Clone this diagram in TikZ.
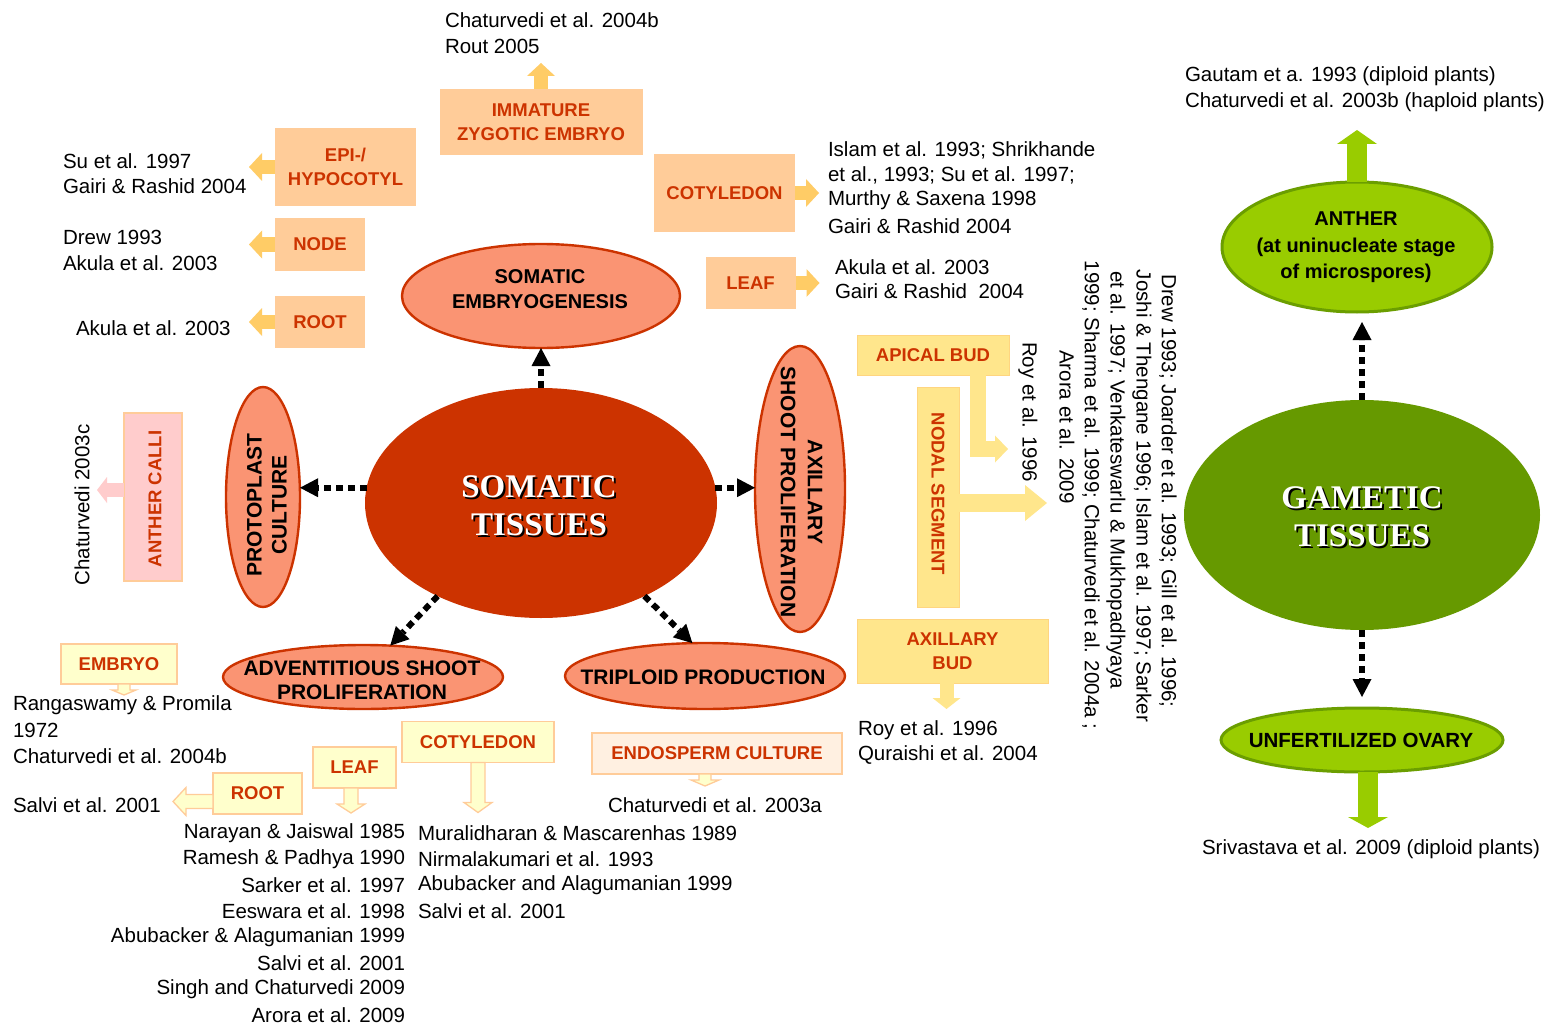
\documentclass[tikz,border=0pt]{standalone}
\usepackage{fontspec}
\setmainfont{Liberation Sans}
\newfontfamily\serifbf{Liberation Serif}
\usetikzlibrary{shapes.geometric,arrows.meta,calc}
\pgfdeclarelayer{bg}
\pgfsetlayers{bg,main}
\newcommand\fsz[2]{\fontsize{#1}{#2}\selectfont}
\definecolor{dred}{HTML}{CC3300}
\definecolor{salmon}{HTML}{FA9473}
\definecolor{obox}{HTML}{FFCC99}
\definecolor{oarr}{HTML}{FFCC66}
\definecolor{ybox}{HTML}{FFE68C}
\definecolor{yedge}{HTML}{FFD580}
\definecolor{lybox}{HTML}{FFFFCC}
\definecolor{pbox}{HTML}{FFCCCC}
\definecolor{peach}{HTML}{FFF0E1}
\definecolor{dgreen}{HTML}{669900}
\definecolor{lgreen}{HTML}{99CC00}
\definecolor{gedge}{HTML}{6B9E00}
\definecolor{txtred}{HTML}{CC3300}
% hollow down arrow: anchor, dx, length, half shaft, half head, head length
\newcommand\hdn[6]{\path[hol] ($(#1)+({#2-#4},0)$) -- ++(0,{#3-#6}) -- ++({#4-#5},0) -- ++(#5,#6) -- ++(#5,{-#6}) -- ++({#4-#5},0) -- ++(0,{#6-#3}) -- cycle;}
% hollow left arrow: anchor, dy, length, half shaft, half head, head length
\newcommand\hlf[6]{\path[hol] ($(#1)+(0,{#2-#4})$) -- ++({#6-#3},0) -- ++(0,{#4-#5}) -- ++({-#6},#5) -- ++(#6,#5) -- ++(0,{#4-#5}) -- ++({#3-#6},0) -- cycle;}
\begin{document}
\begin{tikzpicture}[x=1pt,y=-1pt,
  every node/.style={inner sep=0pt,outer sep=0pt},
  ref/.style={font=\fsz{20.5}{25.5},anchor=west},
  refr/.style={font=\fsz{20.5}{25.5},anchor=east},
  refv/.style={font=\fsz{20.5}{25.5},anchor=center},
  olbl/.style={font=\bfseries\fsz{18.5}{24},text=txtred,align=center},
  obx/.style={rectangle,fill=obox,olbl},
  ybx/.style={rectangle,fill=ybox,draw=yedge,line width=0.8pt,olbl},
  lbx/.style={rectangle,fill=lybox,draw=obox,line width=1.3pt,olbl},
  sell/.style={ellipse,fill=salmon,draw=dred,line width=2.4pt},
  gell/.style={ellipse,fill=lgreen,draw=gedge,line width=3pt},
  elbl/.style={font=\bfseries\fsz{21}{25},align=center},
  big/.style={font=\serifbf\bfseries\fsz{33}{38},align=center},
  dotl/.style={line width=3pt,dash pattern=on 3pt off 3pt},
  darr/.style={line width=6pt,dash pattern=on 7pt off 5pt,-{Triangle[length=18pt,width=19pt,line width=0pt]}},
  oar/.style={draw=oarr,line width=14pt,-{Triangle[length=13pt,width=28pt,line width=0pt]}},
  hol/.style={fill=lybox,draw=obox,line width=1.3pt,line join=miter}
]
\useasboundingbox (0,0) rectangle (1558,1027);
\fill[white] (0,0) rectangle (1558,1027);

% ---------- main ellipses
\node[ellipse,fill=dred,minimum width=352,minimum height=230] (st) at (541,503) {};
\node[big,text=black] (stsh) at (541,508) {SOMATIC\\TISSUES};
\node[big,text=white] (stt) at (539,506) {SOMATIC\\TISSUES};
\node[ellipse,fill=dgreen,minimum width=356,minimum height=230] (gt) at (1362,515) {};
\node[big,text=black] (gtsh) at (1364,519) {GAMETIC\\TISSUES};
\node[big,text=white] (gtt) at (1362,517) {GAMETIC\\TISSUES};

\node[sell,minimum width=278,minimum height=104] (se) at (541,296) {};
\node[font=\bfseries\fsz{20}{25},align=center] (set) at (540,289.5) {SOMATIC\\EMBRYOGENESIS};
\node[sell,minimum width=74,minimum height=220] (pc) at (263,497) {};
\node[elbl,rotate=90] (pct) at (267,505) {PROTOPLAST\\CULTURE};
\node[sell,minimum width=90,minimum height=286] (asp) at (800,489) {};
\node[elbl,font=\bfseries\fsz{21}{27},rotate=-90] (aspt) at (801.5,492) {AXILLARY\\SHOOT PROLIFERATION};
\node[sell,minimum width=280,minimum height=64] (adv) at (363,677) {};
\node[elbl,font=\bfseries\fsz{21}{24}] (advt) at (362,680) {ADVENTITIOUS SHOOT\\PROLIFERATION};
\node[sell,minimum width=280,minimum height=66] (tp) at (705,676) {};
\node[elbl] (tpt) at (703,677) {TRIPLOID PRODUCTION};
\node[gell,minimum width=270,minimum height=130] (an) at (1357,247) {};
\node[font=\bfseries\fsz{20}{26.5},align=center] (ant) at (1356,247.5) {ANTHER\\(at uninucleate stage\\of microspores)};
\node[gell,minimum width=282,minimum height=64] (uo) at (1362,740) {};
\node[font=\bfseries\fsz{20.5}{25}] (uot) at (1361,740) {UNFERTILIZED OVARY};

% ---------- boxes
\node[obx,minimum width=203,minimum height=66] (imm) at (541,122) {IMMATURE\\ZYGOTIC EMBRYO};
\node[obx,minimum width=141,minimum height=78] (epi) at (345.5,167) {EPI-/\\HYPOCOTYL};
\node[obx,minimum width=90,minimum height=53] (nd) at (320,244.5) {NODE};
\node[obx,minimum width=90,minimum height=52] (rt) at (320,322) {ROOT};
\node[obx,minimum width=141,minimum height=78] (cot) at (724.5,193) {COTYLEDON};
\node[obx,minimum width=90,minimum height=52] (lf) at (750.5,283) {LEAF};

\node[ybx,minimum width=152,minimum height=40] (ap) at (933,355) {APICAL BUD};
\node[ybx,minimum width=42,minimum height=220] (ns) at (938,497) {};
\node[olbl,rotate=-90] (nst) at (938,494) {NODAL SEGMENT};
\node[ybx,minimum width=191,minimum height=64] (ab) at (952.5,651) {AXILLARY\\BUD};

\node[lbx,minimum width=116,minimum height=40] (emb) at (119,664) {EMBRYO};
\node[lbx,minimum width=89,minimum height=41] (rt2) at (257.5,793.5) {ROOT};
\node[lbx,minimum width=83,minimum height=41] (lf2) at (354.5,767.5) {LEAF};
\node[lbx,minimum width=152,minimum height=41] (cot2) at (478,742) {COTYLEDON};
\node[lbx,fill=peach,minimum width=250,minimum height=41] (es) at (717,753.5) {ENDOSPERM CULTURE};

\node[rectangle,fill=pbox,draw=obox,line width=1.3pt,minimum width=58,minimum height=168] (ac) at (153,497) {};
\node[olbl,rotate=90] (act) at (155,499) {ANTHER CALLI};

% ---------- dotted connectors
\begin{pgfonlayer}{bg}
\draw[dotl] (epi.south east) -- (se.156);
\draw[dotl] (nd.south east) -- (se.175);
\draw[dotl] (rt.east) -- (se.185);
\draw[dotl] (imm.south) -- (se.north);
\draw[dotl] (cot.south west) -- (se.24);
\draw[dotl] (se.east) -- (se.east -| lf.west);
\draw[dotl] ($(ac.east)+(0,6)$) -- ($(pc.west)+(0,6)$);
\draw[dotl] (asp.55) -- ($(ap.south west)+(23,0)$);
\draw[dotl] (asp.16) -- (asp.16 -| ns.west);
\draw[dotl] (asp.-50) -- ($(ab.north west)+(38,0)$);
\draw[dotl] (adv.177) -- (adv.177 -| emb.east);
\coordinate (rtx) at ($(rt2.north)+(17.5,0)$);
\draw[dotl] (adv.south -| rtx) -- (rtx);
\coordinate (lfx) at ($(lf2.north)+(-3.5,0)$);
\draw[dotl] (adv.south -| lfx) -- (lfx);
\draw[dotl] (cot2.north) -- (cot2.north |- adv.center);
\draw[dotl] (tp.south) -- (tp.south |- es.north);
\end{pgfonlayer}

% ---------- dashed black arrows
\draw[darr] (st.north) -- (se.south);
\draw[darr] (st.175) -- (st.175 -| pc.east);
\draw[darr] (st.5) -- (st.5 -| asp.west);
\draw[darr] (st.222) -- (adv.49);
\draw[darr] (st.318) -- (tp.111);
\draw[darr,shorten >=10pt] (gt.north) -- (gt.north |- an.south);
\draw[darr,shorten >=11pt] (gt.south) -- (gt.south |- uo.north);

% ---------- block arrows
\draw[oar] (epi.west) -- ++(-26,0);
\draw[oar] (nd.west) -- ++(-26,0);
\draw[oar] (rt.west) -- ++(-26,0);
\draw[oar] (imm.north) -- ++(0,-26);
\draw[oar] (cot.east) -- ++(24,0);
\draw[oar] (lf.east) -- ++(24,0);
\draw[draw=pbox,line width=14pt,-{Triangle[length=10pt,width=26pt,line width=0pt]}] ($(ac.west)+(0,-7)$) -- ++(-27,0);
\draw[draw=ybox,line width=16pt,line join=miter,-{Triangle[length=13pt,width=27pt,line width=0pt]}] ($(ap.south east)+(-31,0)$) -- ++(0,74) -- ++(30,0);
\draw[draw=ybox,line width=18pt,-{Triangle[length=22pt,width=36pt,line width=0pt]}] ($(ns.east)+(0,6)$) -- ++(88,0);
\draw[draw=ybox,line width=14pt,-{Triangle[length=11pt,width=28pt,line width=0pt]}] ($(ab.south)+(-6,0)$) -- ++(0,26);
\draw[draw=lgreen,line width=20pt,-{Triangle[length=14pt,width=40pt,line width=0pt]}] (an.north) -- ++(0,-52);
\draw[draw=lgreen,line width=20pt,-{Triangle[length=11pt,width=40pt,line width=0pt]}] ($(uo.south)+(6,0)$) -- ++(0,56);

% hollow arrows
\hdn{emb.south}{5}{11}{6}{12}{5}
\hlf{rt2.west}{8}{40}{7}{14}{13}
\hdn{lf2.south}{-3.5}{25}{7}{14}{9}
\hdn{cot2.south}{0}{50}{7}{14}{10}
\hdn{es.south}{-12}{12}{6}{14}{6}

% ---------- references
\node[ref] (r1) at (445,20) {Chaturvedi et al. 2004b};
\node[ref] (r2) at (445,46) {Rout 2005};
\node[ref] (r3) at (63,161) {Su et al. 1997};
\node[ref] (r4) at (63,186) {Gairi \& Rashid 2004};
\node[ref] (r5) at (63,237) {Drew 1993};
\node[ref] (r6) at (63,263) {Akula et al. 2003};
\node[ref] (r7) at (76,328) {Akula et al. 2003};
\node[ref] (r8) at (828,150) {Islam et al. 1993; Shrikhande};
\node[ref] (r9) at (828,175) {et al., 1993; Su et al. 1997;};
\node[ref] (r10) at (828,200) {Murthy \& Saxena 1998};
\node[ref] (r11) at (828,226) {Gairi \& Rashid 2004};
\node[ref] (r12) at (835,267) {Akula et al. 2003};
\node[ref] (r13) at (835,291) {Gairi \& Rashid\ \ 2004};
\node[ref] (r14) at (1185,76) {Gautam et a. 1993 (diploid plants)};
\node[ref] (r15) at (1185,102) {Chaturvedi et al. 2003b (haploid plants)};
\node[ref] (r16) at (858,730) {Roy et al. 1996};
\node[ref] (r17) at (858,755) {Quraishi et al. 2004};
\node[ref] (r18) at (13,705) {Rangaswamy \& Promila};
\node[ref] (r19) at (13,730) {1972};
\node[ref] (r20) at (13,756) {Chaturvedi et al. 2004b};
\node[ref] (r21) at (13,805) {Salvi et al. 2001};
\node[refr] (r22) at (405,833) {Narayan \& Jaiswal 1985};
\node[refr] (r23) at (405,859) {Ramesh \& Padhya 1990};
\node[refr] (r24) at (405,885) {Sarker et al. 1997};
\node[refr] (r25) at (405,911) {Eeswara et al. 1998};
\node[refr] (r26) at (405,937) {Abubacker \& Alagumanian 1999};
\node[refr] (r27) at (405,963) {Salvi et al. 2001};
\node[refr] (r28) at (405,989) {Singh and Chaturvedi 2009};
\node[refr] (r29) at (405,1015) {Arora et al. 2009};
\node[ref] (r30) at (418,833) {Muralidharan \& Mascarenhas 1989};
\node[ref] (r31) at (418,859) {Nirmalakumari et al. 1993};
\node[ref] (r32) at (418,885) {Abubacker and Alagumanian 1999};
\node[ref] (r33) at (418,911) {Salvi et al. 2001};
\node[ref] (r34) at (608,805) {Chaturvedi et al. 2003a};
\node[ref] (r35) at (1202,849) {Srivastava et al. 2009 (diploid plants)};
\node[refv,rotate=90] (r36) at (82,505) {Chaturvedi 2003c};
\node[refv,rotate=-90] (r37) at (1028,412) {Roy et al. 1996};
\node[refv,rotate=-90] (r38) at (1168,491) {Drew 1993; Joarder et al. 1993; Gill et al. 1996;};
\node[refv,rotate=-90] (r39) at (1142,496) {Joshi \& Thengane 1996; Islam et al. 1997; Sarker};
\node[refv,rotate=-90] (r40) at (1116,480) {et al. 1997; Venkateswarlu \& Mukhopadhyaya};
\node[refv,rotate=-90] (r41) at (1091,495) {1999; Sharma et al. 1999; Chaturvedi et al. 2004a ;};
\node[refv,rotate=-90] (r42) at (1067,427) {Arora et al. 2009};
\end{tikzpicture}
\end{document}
